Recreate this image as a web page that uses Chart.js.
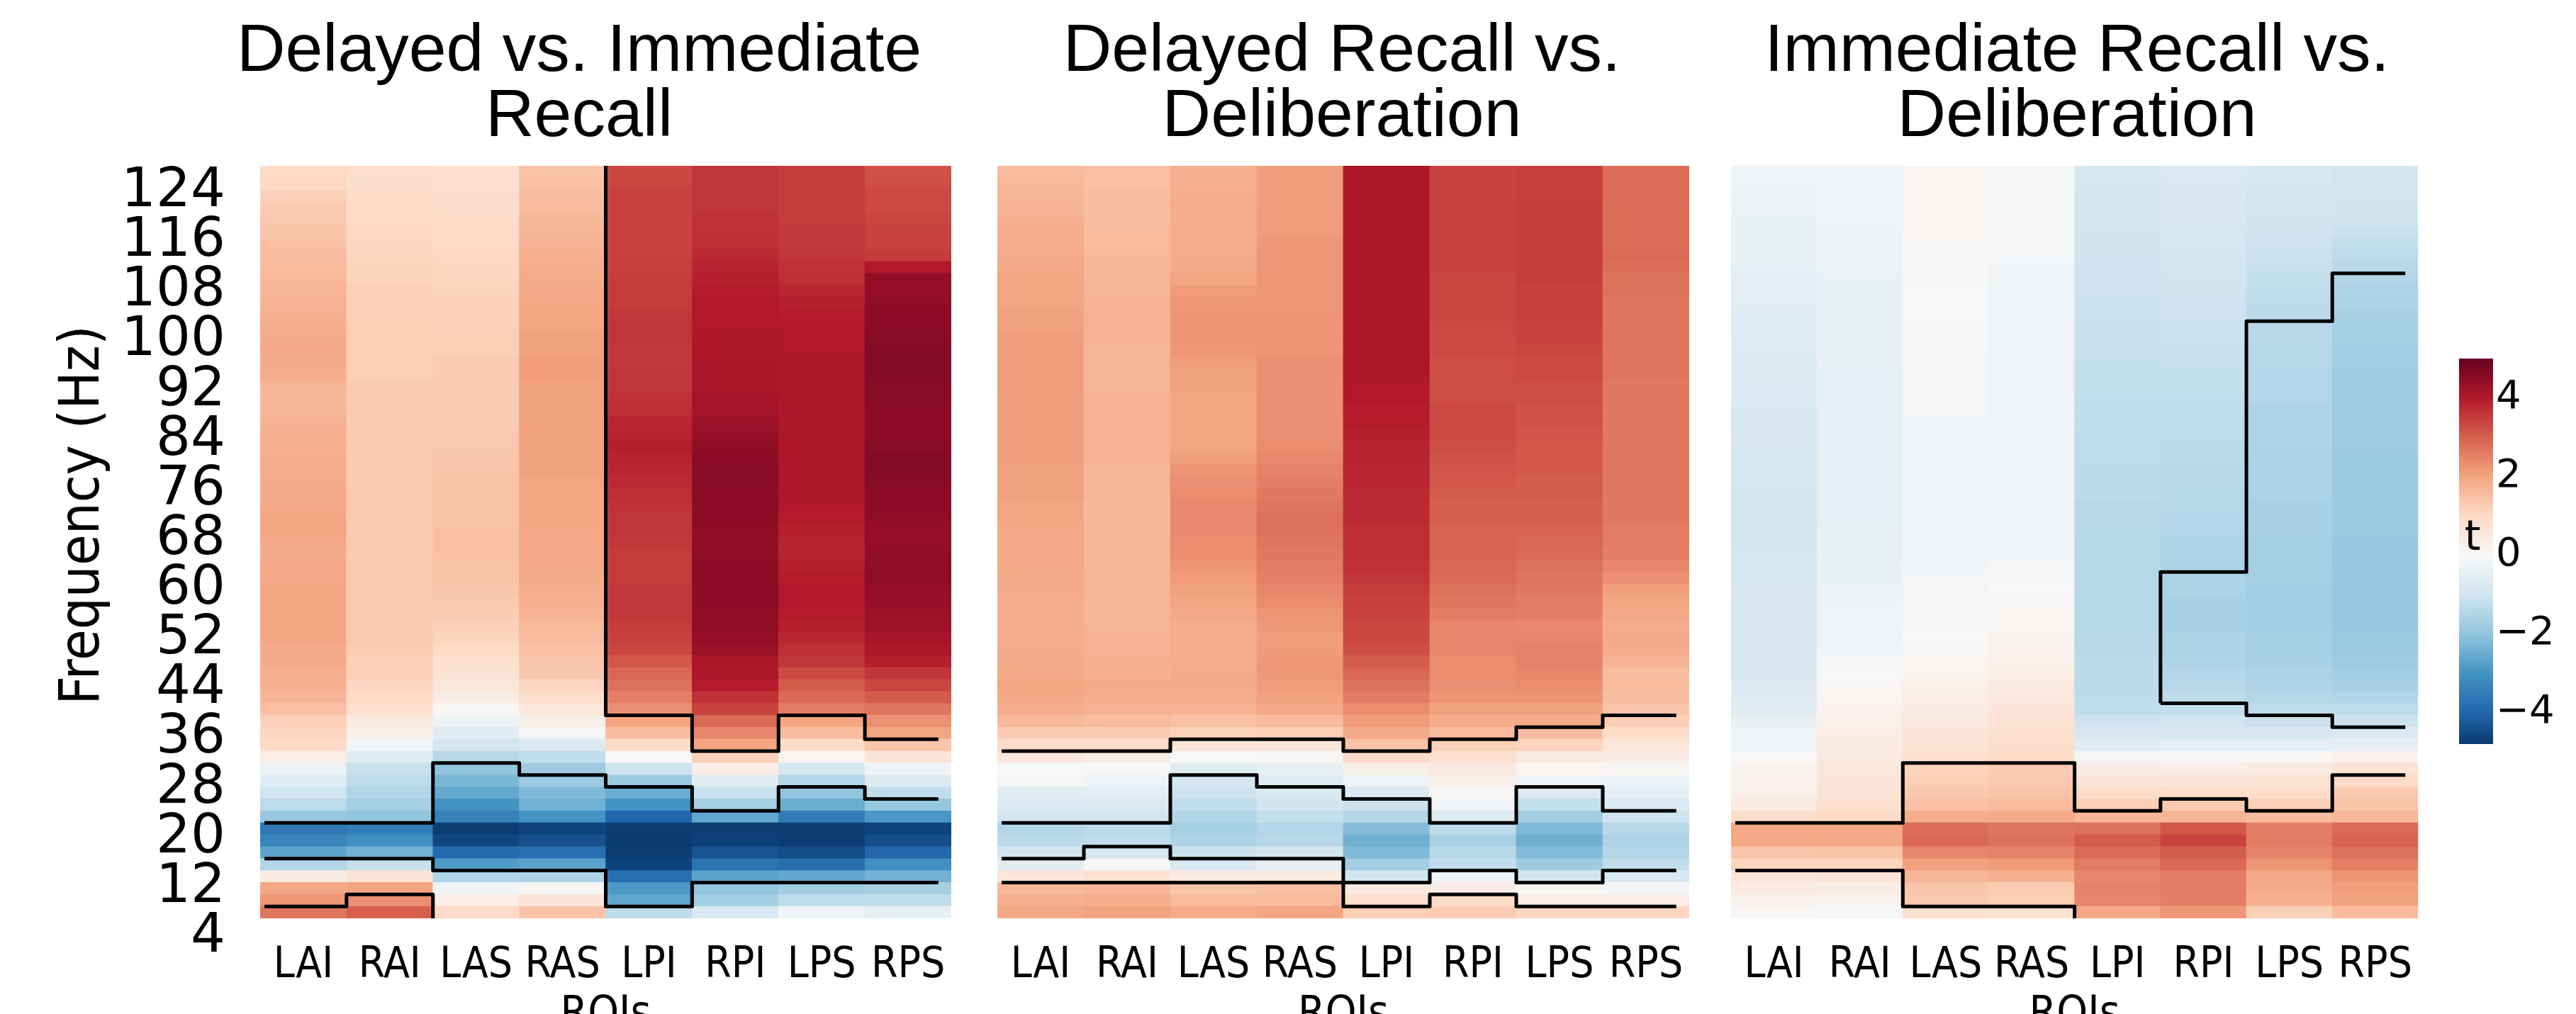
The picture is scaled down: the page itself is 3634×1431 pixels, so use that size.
<!DOCTYPE html>
<html>
<head>
<meta charset="utf-8">
<script src="https://cdn.jsdelivr.net/npm/chart.js@4.4.1/dist/chart.umd.min.js"></script>
<style>
  html, body { margin: 0; padding: 0; background: #fff; overflow: hidden; }
  #page { position: relative; width: 3634px; height: 1431px; }
  canvas { position: absolute; top: 0; }
</style>
</head>
<body>
<div id="page">
  <canvas id="p1" width="1375" height="1431" style="left:0px"></canvas>
  <canvas id="p2" width="1050" height="1431" style="left:1375px"></canvas>
  <canvas id="p3" width="1010" height="1431" style="left:2425px"></canvas>
  <canvas id="cb" width="199" height="1431" style="left:3435px"></canvas>
</div>
<script>
const roiLabels = ['LAI', 'RAI', 'LAS', 'RAS', 'LPI', 'RPI', 'LPS', 'RPS'];

// one row per 2 Hz bin, bottom to top
const freqs = [4, 6, 8, 10, 12, 14, 16, 18, 20, 22, 24, 26, 28, 30, 32, 34, 36, 38, 40, 42,
  44, 46, 48, 50, 52, 54, 56, 58, 60, 62, 64, 66, 68, 70, 72, 74, 76, 78, 80, 82,
  84, 86, 88, 90, 92, 94, 96, 98, 100, 102, 104, 106, 108, 110, 112, 114, 116, 118, 120, 122,
  124, 126, 128];

const freqTicks = [4, 12, 20, 28, 36, 44, 52, 60, 68, 76, 84, 92, 100, 108, 116, 124];
const colorbarTicks = [4, 2, 0, -2, -4];
const colorbarRange = [-4.8, 5.0];

// t values, one array per ROI (LAI..RPS), rows 4 Hz -> 128 Hz
const delayedVsImmediate = [
  [2.7, 2.2, 1.95, 0.4, -1.5, -2.7, -3.3, -3.6, -1.9, -1.3, -1.0, -0.6, -0.3, 0.35, 1.0, 1.1, 1.2, 1.5, 1.7, 1.8, 1.8, 1.9, 1.9, 2.0, 2.0,
   2.0, 2.0, 2.0, 1.95, 1.95, 1.9, 1.95, 2.0, 2.0, 1.95, 1.9, 1.9, 1.85, 1.85, 1.8, 1.8, 1.75, 1.7, 1.65, 1.7, 1.85, 1.9, 1.95, 1.9, 1.85, 1.8, 1.75, 1.7, 1.65, 1.6, 1.55, 1.5, 1.45, 1.35, 1.3, 1.2, 1.05, 1.0],
  [3.0, 2.3, 2.0, 0.7, -1.15, -2.4, -3.1, -3.5, -2.0, -1.7, -1.5, -1.3, -1.15, -0.6, -0.1, 0.3, 0.5, 0.8, 1.0, 1.1, 1.2, 1.2, 1.3, 1.35, 1.35,
   1.35, 1.35, 1.35, 1.3, 1.3, 1.3, 1.3, 1.3, 1.35, 1.35, 1.35, 1.3, 1.3, 1.3, 1.3, 1.3, 1.3, 1.3, 1.3, 1.3, 1.25, 1.25, 1.25, 1.25, 1.25, 1.2, 1.2, 1.2, 1.15, 1.15, 1.1, 1.1, 1.05, 1.0, 1.0, 0.95, 0.9, 0.85],
  [1.0, 0.35, -0.2, -1.5, -2.85, -3.9, -4.6, -4.75, -3.4, -3.0, -2.6, -2.3, -2.0, -1.4, -0.95, -0.6, -0.25, 0.05, 0.4, 0.6, 0.75, 0.8, 1.0, 1.15, 1.2,
   1.3, 1.35, 1.4, 1.45, 1.45, 1.5, 1.5, 1.5, 1.45, 1.45, 1.45, 1.45, 1.4, 1.4, 1.35, 1.35, 1.3, 1.3, 1.3, 1.3, 1.3, 1.3, 1.25, 1.25, 1.2, 1.2, 1.2, 1.15, 1.1, 1.1, 1.05, 1.0, 1.0, 0.95, 0.9, 0.9, 0.85, 0.8],
  [1.45, 0.65, 0.05, -1.55, -2.7, -3.8, -4.4, -4.65, -3.0, -2.4, -2.2, -1.85, -1.8, -1.25, -0.7, -0.1, 0.3, 0.6, 0.9, 1.1, 1.35, 1.4, 1.5, 1.6, 1.65,
   1.75, 1.8, 1.85, 1.9, 1.95, 1.95, 1.95, 1.95, 2.0, 2.0, 2.0, 2.0, 2.05, 2.05, 2.05, 2.05, 2.05, 2.05, 2.05, 2.05, 2.1, 2.1, 2.05, 2.05, 2.0, 2.0, 1.95, 1.95, 1.9, 1.85, 1.8, 1.75, 1.7, 1.65, 1.6, 1.55, 1.5, 1.45],
  [-1.3, -2.65, -2.9, -3.8, -4.65, -4.75, -4.8, -4.75, -4.0, -3.0, -2.5, -1.85, -1.05, 0.0, 1.0, 1.55, 2.0, 2.3, 2.55, 2.75, 2.9, 3.1, 3.35, 3.45, 3.5,
   3.55, 3.55, 3.55, 3.5, 3.5, 3.5, 3.55, 3.6, 3.6, 3.65, 3.7, 3.75, 3.8, 3.85, 3.9, 3.85, 3.8, 3.7, 3.65, 3.6, 3.6, 3.55, 3.55, 3.6, 3.6, 3.55, 3.5, 3.5, 3.5, 3.45, 3.45, 3.4, 3.4, 3.4, 3.4, 3.4, 3.35, 3.35],
  [-0.8, -1.75, -2.0, -2.7, -3.7, -4.35, -4.7, -4.75, -2.6, -1.7, -1.15, -0.55, 0.35, 1.2, 2.0, 2.45, 2.85, 3.4, 3.65, 3.95, 4.05, 4.1, 4.3, 4.4, 4.45,
   4.45, 4.5, 4.5, 4.5, 4.5, 4.45, 4.45, 4.45, 4.5, 4.5, 4.5, 4.55, 4.55, 4.5, 4.45, 4.35, 4.3, 4.2, 4.15, 4.1, 4.1, 4.1, 4.05, 4.05, 4.0, 4.0, 4.0, 3.95, 3.9, 3.85, 3.75, 3.7, 3.65, 3.65, 3.6, 3.6, 3.6, 3.6],
  [-0.15, -1.3, -1.75, -2.6, -3.8, -4.5, -4.75, -4.75, -3.5, -2.5, -2.0, -1.5, -0.9, 0.1, 1.0, 1.55, 2.0, 2.6, 2.85, 3.05, 3.3, 3.6, 3.7, 3.8, 3.9,
   3.95, 4.0, 4.0, 3.95, 3.9, 3.85, 3.85, 3.9, 3.95, 4.0, 4.05, 4.05, 4.05, 4.05, 4.05, 4.05, 4.05, 4.05, 4.05, 4.05, 4.05, 4.05, 4.0, 4.0, 4.0, 3.95, 3.9, 3.8, 3.7, 3.65, 3.6, 3.55, 3.55, 3.5, 3.5, 3.5, 3.5, 3.5],
  [-0.45, -1.25, -1.65, -2.4, -3.1, -3.95, -4.45, -4.65, -2.9, -1.95, -1.25, -0.7, -0.15, 0.65, 1.4, 2.0, 2.3, 2.7, 3.05, 3.35, 3.6, 3.9, 4.05, 4.15, 4.25,
   4.3, 4.35, 4.4, 4.45, 4.45, 4.45, 4.4, 4.4, 4.45, 4.5, 4.5, 4.55, 4.6, 4.6, 4.55, 4.5, 4.5, 4.5, 4.55, 4.55, 4.6, 4.6, 4.6, 4.55, 4.5, 4.5, 4.45, 4.4, 4.4, 4.0, 3.5, 3.4, 3.4, 3.35, 3.3, 3.3, 3.25, 3.2],
];

const delayedVsDeliberation = [
  [1.95, 1.8, 1.65, 0.65, -0.55, -0.95, -1.35, -1.5, -0.95, -0.75, -0.55, -0.1, 0.0, 0.6, 0.95, 1.3, 1.65, 1.85, 1.95, 2.0, 1.95, 1.9, 1.9, 1.85, 1.85,
   1.85, 1.85, 1.9, 1.9, 1.95, 1.95, 1.95, 1.95, 2.0, 2.0, 2.05, 2.05, 2.05, 2.1, 2.1, 2.1, 2.1, 2.1, 2.1, 2.15, 2.15, 2.15, 2.1, 2.1, 2.05, 2.05, 2.0, 2.0, 2.0, 1.95, 1.9, 1.85, 1.85, 1.8, 1.75, 1.7, 1.65, 1.6],
  [2.05, 1.85, 1.7, 0.8, 0.0, -0.9, -1.25, -1.35, -0.95, -0.7, -0.5, -0.2, 0.0, 0.4, 0.95, 1.3, 1.6, 1.75, 1.85, 1.9, 1.8, 1.8, 1.75, 1.75, 1.7,
   1.7, 1.7, 1.7, 1.7, 1.65, 1.65, 1.65, 1.65, 1.65, 1.65, 1.7, 1.7, 1.7, 1.75, 1.75, 1.75, 1.75, 1.75, 1.75, 1.7, 1.7, 1.7, 1.7, 1.75, 1.75, 1.75, 1.75, 1.7, 1.7, 1.65, 1.65, 1.6, 1.6, 1.55, 1.55, 1.55, 1.5, 1.5],
  [1.9, 1.6, 1.4, 0.45, -0.75, -1.1, -1.55, -1.7, -1.5, -1.25, -1.05, -0.9, -0.6, 0.0, 0.6, 1.15, 1.5, 1.75, 1.85, 1.9, 1.9, 1.85, 1.85, 1.85, 1.85,
   1.95, 2.0, 2.05, 2.15, 2.25, 2.35, 2.35, 2.4, 2.4, 2.4, 2.35, 2.3, 2.25, 2.1, 2.0, 2.0, 2.0, 2.0, 2.0, 2.05, 2.05, 2.1, 2.2, 2.25, 2.25, 2.25, 2.2, 2.15, 2.0, 1.9, 1.9, 1.85, 1.85, 1.85, 1.85, 1.85, 1.8, 1.8],
  [2.0, 1.6, 1.5, 0.5, -0.5, -0.95, -1.4, -1.5, -1.2, -1.0, -0.8, -0.6, -0.4, 0.05, 0.65, 1.25, 1.6, 1.95, 2.05, 2.15, 2.2, 2.2, 2.15, 2.1, 2.2,
   2.25, 2.35, 2.45, 2.55, 2.6, 2.65, 2.7, 2.75, 2.75, 2.7, 2.65, 2.55, 2.5, 2.4, 2.35, 2.3, 2.3, 2.3, 2.3, 2.3, 2.3, 2.3, 2.25, 2.25, 2.25, 2.25, 2.2, 2.2, 2.2, 2.2, 2.2, 2.2, 2.15, 2.15, 2.1, 2.1, 2.1, 2.1],
  [1.25, 0.8, 0.45, -0.95, -1.75, -2.25, -2.45, -2.15, -1.5, -1.1, -0.75, -0.25, 0.3, 0.95, 1.45, 1.9, 2.15, 2.35, 2.6, 2.75, 2.9, 3.05, 3.25, 3.35, 3.35,
   3.4, 3.45, 3.5, 3.6, 3.65, 3.7, 3.7, 3.7, 3.75, 3.75, 3.75, 3.8, 3.8, 3.85, 3.85, 3.9, 3.95, 3.95, 4.0, 4.0, 4.05, 4.05, 4.05, 4.05, 4.05, 4.05, 4.05, 4.05, 4.05, 4.05, 4.05, 4.05, 4.05, 4.05, 4.05, 4.05, 4.05, 4.05],
  [1.3, 0.95, 0.4, -0.25, -1.25, -1.45, -1.65, -1.35, -0.6, -0.2, 0.05, 0.3, 0.45, 0.8, 1.2, 1.6, 1.9, 2.05, 2.25, 2.3, 2.35, 2.35, 2.45, 2.45, 2.45,
   2.6, 2.7, 2.75, 2.85, 2.9, 2.95, 2.95, 2.95, 3.0, 3.0, 3.05, 3.1, 3.15, 3.2, 3.25, 3.3, 3.3, 3.3, 3.25, 3.25, 3.25, 3.25, 3.3, 3.3, 3.3, 3.35, 3.35, 3.35, 3.35, 3.4, 3.4, 3.4, 3.4, 3.4, 3.4, 3.4, 3.4, 3.4],
  [1.1, 0.35, 0.05, -0.95, -1.8, -2.2, -2.45, -2.25, -1.75, -1.2, -0.75, -0.25, 0.1, 0.5, 1.15, 1.55, 1.9, 2.05, 2.25, 2.35, 2.45, 2.5, 2.5, 2.45, 2.4,
   2.55, 2.6, 2.65, 2.7, 2.75, 2.85, 2.9, 2.95, 3.0, 3.0, 3.05, 3.05, 3.1, 3.1, 3.1, 3.15, 3.2, 3.2, 3.25, 3.25, 3.3, 3.3, 3.35, 3.4, 3.4, 3.45, 3.45, 3.45, 3.5, 3.5, 3.5, 3.5, 3.5, 3.5, 3.5, 3.45, 3.45, 3.45],
  [1.1, 0.35, -0.1, -0.8, -1.25, -1.5, -1.55, -1.4, -1.05, -0.75, -0.5, -0.3, 0.1, 0.4, 0.65, 0.95, 1.25, 1.4, 1.55, 1.6, 1.55, 1.75, 1.9, 1.9, 1.85,
   1.95, 2.0, 2.1, 2.3, 2.45, 2.55, 2.6, 2.6, 2.65, 2.65, 2.65, 2.65, 2.65, 2.65, 2.65, 2.65, 2.65, 2.65, 2.65, 2.65, 2.7, 2.7, 2.7, 2.7, 2.7, 2.7, 2.7, 2.75, 2.75, 2.8, 2.85, 2.8, 2.8, 2.8, 2.8, 2.8, 2.8, 2.8],
];

const immediateVsDeliberation = [
  [0.05, 0.2, 0.45, 0.65, 1.1, 1.4, 1.95, 1.95, 0.9, 0.45, 0.25, 0.2, 0.15, 0.0, -0.15, -0.25, -0.4, -0.55, -0.65, -0.7, -0.8, -0.8, -0.85, -0.8, -0.8,
   -0.8, -0.85, -0.85, -0.9, -0.9, -0.9, -0.95, -0.95, -0.95, -0.95, -0.95, -0.9, -0.9, -0.9, -0.85, -0.85, -0.8, -0.8, -0.75, -0.75, -0.7, -0.7, -0.65, -0.65, -0.6, -0.6, -0.55, -0.5, -0.5, -0.45, -0.4, -0.4, -0.35, -0.35, -0.3, -0.3, -0.25, -0.25],
  [-0.1, 0.15, 0.35, 0.7, 1.1, 1.45, 1.95, 1.95, 1.0, 0.8, 0.7, 0.65, 0.6, 0.5, 0.45, 0.35, 0.25, 0.2, 0.1, 0.05, 0.0, -0.05, -0.15, -0.2, -0.2,
   -0.25, -0.3, -0.3, -0.35, -0.35, -0.4, -0.4, -0.4, -0.45, -0.45, -0.45, -0.45, -0.45, -0.45, -0.45, -0.45, -0.45, -0.45, -0.45, -0.45, -0.45, -0.4, -0.4, -0.4, -0.4, -0.4, -0.35, -0.35, -0.35, -0.3, -0.3, -0.3, -0.3, -0.25, -0.25, -0.25, -0.2, -0.2],
  [0.8, 1.35, 1.4, 1.7, 2.05, 2.45, 2.85, 2.8, 1.85, 1.5, 1.35, 1.25, 1.15, 0.8, 0.75, 0.65, 0.5, 0.4, 0.35, 0.25, 0.15, 0.1, 0.05, 0.0, -0.05,
   -0.05, -0.1, -0.1, -0.1, -0.15, -0.15, -0.15, -0.15, -0.15, -0.15, -0.15, -0.15, -0.15, -0.15, -0.15, -0.15, -0.15, -0.1, -0.1, -0.1, -0.1, -0.1, -0.05, -0.05, -0.05, 0.0, 0.0, 0.0, 0.05, 0.05, 0.05, 0.05, 0.1, 0.1, 0.1, 0.1, 0.1, 0.1],
  [0.75, 1.25, 1.3, 1.8, 2.15, 2.5, 2.75, 2.7, 1.9, 1.6, 1.45, 1.35, 1.3, 0.95, 0.9, 0.8, 0.75, 0.65, 0.55, 0.45, 0.35, 0.25, 0.2, 0.15, 0.1,
   0.1, 0.05, 0.0, -0.05, -0.1, -0.15, -0.15, -0.2, -0.2, -0.2, -0.2, -0.2, -0.2, -0.2, -0.2, -0.2, -0.2, -0.2, -0.2, -0.2, -0.2, -0.2, -0.2, -0.15, -0.15, -0.15, -0.15, -0.15, -0.15, -0.15, -0.1, -0.1, -0.1, -0.1, -0.1, -0.1, -0.1, -0.1],
  [1.95, 2.45, 2.5, 2.45, 2.6, 2.85, 3.05, 2.75, 1.65, 1.2, 0.95, 0.65, 0.4, -0.1, -0.6, -0.85, -1.05, -1.25, -1.3, -1.35, -1.35, -1.35, -1.4, -1.4, -1.45,
   -1.45, -1.45, -1.45, -1.45, -1.45, -1.45, -1.45, -1.4, -1.4, -1.4, -1.35, -1.35, -1.35, -1.3, -1.3, -1.3, -1.25, -1.25, -1.25, -1.2, -1.2, -1.2, -1.15, -1.15, -1.15, -1.1, -1.1, -1.05, -1.05, -1.05, -1.0, -1.0, -1.0, -0.95, -0.95, -0.95, -0.9, -0.9],
  [2.2, 2.55, 2.6, 2.6, 2.85, 3.05, 3.4, 3.1, 1.7, 1.3, 0.95, 0.65, 0.35, -0.05, -0.5, -0.8, -1.0, -1.2, -1.3, -1.4, -1.5, -1.55, -1.6, -1.6, -1.65,
   -1.65, -1.65, -1.6, -1.6, -1.6, -1.55, -1.55, -1.5, -1.5, -1.45, -1.45, -1.4, -1.4, -1.35, -1.35, -1.3, -1.3, -1.25, -1.25, -1.2, -1.2, -1.15, -1.15, -1.1, -1.1, -1.05, -1.05, -1.0, -1.0, -0.95, -0.95, -0.9, -0.9, -0.85, -0.85, -0.8, -0.8, -0.75],
  [1.2, 1.8, 1.9, 1.95, 2.25, 2.5, 2.6, 2.55, 1.55, 1.2, 0.95, 0.75, 0.45, 0.05, -0.5, -0.8, -1.1, -1.3, -1.45, -1.55, -1.6, -1.65, -1.7, -1.7, -1.75,
   -1.75, -1.75, -1.75, -1.7, -1.7, -1.7, -1.7, -1.65, -1.65, -1.65, -1.6, -1.6, -1.6, -1.6, -1.55, -1.55, -1.55, -1.55, -1.5, -1.5, -1.5, -1.45, -1.45, -1.4, -1.4, -1.35, -1.3, -1.25, -1.2, -1.15, -1.1, -1.05, -1.0, -1.0, -0.95, -0.95, -0.9, -0.9],
  [1.6, 2.05, 2.1, 2.25, 2.55, 2.75, 2.95, 2.85, 1.65, 1.45, 1.3, 1.0, 0.7, 0.2, -0.45, -0.75, -1.05, -1.3, -1.5, -1.65, -1.75, -1.8, -1.85, -1.85, -1.9,
   -1.9, -1.9, -1.9, -1.9, -1.9, -1.9, -1.9, -1.85, -1.85, -1.85, -1.85, -1.85, -1.85, -1.85, -1.8, -1.8, -1.8, -1.8, -1.8, -1.8, -1.8, -1.75, -1.75, -1.7, -1.7, -1.65, -1.6, -1.55, -1.5, -1.4, -1.3, -1.2, -1.1, -1.0, -1.0, -0.95, -0.95, -0.95],
];

// cluster outlines: [column edge, frequency edge] points, drawn as steps
const delayedVsImmediateClusters = [
  [[4, 129], [4, 37], [5, 31], [6, 37], [7, 33], [7.85, 33]],
  [[0.05, 19], [2, 29], [3, 27], [4, 25], [5, 21], [6, 25], [7, 23], [7.85, 23]],
  [[0.05, 13], [2, 11], [4, 5], [5, 9], [7.85, 9]],
  [[0.05, 5], [1, 7], [2, 3]],
];
const delayedVsDeliberationClusters = [
  [[0.05, 31], [2, 33], [4, 31], [5, 33], [6, 35], [7, 37], [7.85, 37]],
  [[0.05, 19], [2, 27], [3, 25], [4, 23], [5, 19], [6, 25], [7, 21], [7.85, 21]],
  [[0.05, 13], [1, 15], [2, 13], [4, 9], [5, 11], [6, 9], [7, 11], [7.85, 11]],
  [[0.05, 9], [4, 5], [5, 7], [6, 5], [7.85, 5]],
];
const immediateVsDeliberationClusters = [
  [[5, 39], [5, 61], [6, 103], [7, 111], [7.85, 111]],
  [[5, 39], [6, 37], [7, 35], [7.85, 35]],
  [[0.05, 19], [2, 29], [4, 21], [5, 23], [6, 21], [7, 27], [7.85, 27]],
  [[0.05, 11], [2, 5], [4, 3]],
];

const xTitle = 'ROIs';
const yTitle = 'Frequency (Hz)';
const cbTitle = 't';

// ---- colours: RdBu_r, centred on 0 like seaborn's center=0
const RDBU_R = ['#053061', '#2166ac', '#4393c3', '#92c5de', '#d1e5f0', '#f7f7f7',
  '#fddbc7', '#f4a582', '#d6604d', '#b2182b', '#67001f'];
const V_HALF = 5;
const hexToRgb = (h) => {
  const n = parseInt(h.slice(1), 16);
  return [n >> 16, (n >> 8) & 255, n & 255];
};
const anchors = RDBU_R.map(hexToRgb);
const tColor = (t) => {
  const p = Math.min(1, Math.max(0, (t + V_HALF) / (2 * V_HALF))) * (anchors.length - 1);
  const i = Math.min(anchors.length - 2, Math.floor(p));
  const f = p - i;
  const a = anchors[i];
  const b = anchors[i + 1];
  return `rgb(${a.map((v, k) => Math.round(v + (b[k] - v) * f)).join(',')})`;
};

const DEJAVU = "'DejaVu Sans', sans-serif";
const NARROW = "'DejaVu Sans Condensed', 'DejaVu Sans', sans-serif";
const TITLE_FONT = "95px 'Liberation Sans', Arial, sans-serif";

const panelText = {
  id: 'panelText',
  afterDraw(chart, args, o) {
    const { ctx, chartArea } = chart;
    ctx.save();
    ctx.fillStyle = '#000';
    ctx.textAlign = 'center';
    ctx.textBaseline = 'alphabetic';
    ctx.font = TITLE_FONT;
    o.title.forEach((line, i) => ctx.fillText(line, o.titleX, 100 + i * 92));
    ctx.font = `62px ${NARROW}`;
    ctx.fillText(xTitle, (chartArea.left + chartArea.right) / 2, 1449);
    if (o.yTitle) {
      ctx.font = `79px ${NARROW}`;
      ctx.translate(139, 727);
      ctx.rotate(-Math.PI / 2);
      ctx.fillText(o.yTitle, 0, 0);
    }
    ctx.restore();
  },
};

const heatmapDatasets = (columns) =>
  freqs.map((f, r) => ({
    type: 'bar',
    data: roiLabels.map((_, c) => ({ x: c + 0.5, y: [f - 1, f + 1] })),
    backgroundColor: columns.map((col) => tColor(col[r])),
    borderWidth: 0,
    grouped: false,
    barPercentage: 1,
    categoryPercentage: 1,
    order: 2,
  }));

const clusterDatasets = (lines) =>
  lines.map((pts) => ({
    type: 'line',
    data: pts.map(([x, y]) => ({ x, y })),
    stepped: true,
    borderColor: '#000',
    borderWidth: 5,
    borderJoinStyle: 'round',
    pointRadius: 0,
    fill: false,
    order: 0,
  }));

function makePanel(id, columns, clusters, cfg) {
  const scales = {
    x: {
      type: 'linear',
      min: 0,
      max: 8,
      offset: false,
      grid: { display: false, drawTicks: false },
      border: { display: false },
      afterBuildTicks: (axis) => {
        axis.ticks = roiLabels.map((_, i) => ({ value: i + 0.5 }));
      },
      afterFit: (axis) => {
        axis.height = 135;
      },
      ticks: {
        autoSkip: false,
        maxRotation: 0,
        padding: 31,
        color: '#000',
        font: { family: NARROW, size: 60 },
        callback: (v, i) => roiLabels[i],
      },
    },
    y: { type: 'linear', min: 3, max: 129, display: false },
  };
  if (cfg.freqAxis) {
    scales.yLab = {
      type: 'linear',
      axis: 'y',
      position: 'left',
      min: 7.08,
      max: 128.22,
      bounds: 'data',
      grid: { display: false, drawTicks: false },
      border: { display: false },
      afterBuildTicks: (axis) => {
        axis.ticks = freqTicks.map((v) => ({ value: v }));
      },
      afterFit: (axis) => {
        axis.width = cfg.padLeft;
      },
      ticks: {
        autoSkip: false,
        padding: 49,
        color: '#000',
        font: { family: DEJAVU, size: 77 },
      },
    };
  }
  return new Chart(document.getElementById(id), {
    type: 'bar',
    data: { datasets: [...clusterDatasets(clusters), ...heatmapDatasets(columns)] },
    options: {
      responsive: false,
      animation: false,
      devicePixelRatio: 1,
      events: [],
      layout: {
        padding: { top: 234, bottom: 0, left: cfg.freqAxis ? 0 : cfg.padLeft, right: cfg.padRight },
      },
      plugins: {
        legend: { display: false },
        tooltip: { enabled: false },
        panelText: { title: cfg.title, titleX: cfg.titleX, yTitle: cfg.freqAxis ? yTitle : null },
      },
      scales,
    },
    plugins: [panelText],
  });
}

makePanel('p1', delayedVsImmediate, delayedVsImmediateClusters, {
  title: ['Delayed vs. Immediate', 'Recall'], titleX: 817, freqAxis: true, padLeft: 367, padRight: 33,
});
makePanel('p2', delayedVsDeliberation, delayedVsDeliberationClusters, {
  title: ['Delayed Recall vs.', 'Deliberation'], titleX: 518, freqAxis: false, padLeft: 32, padRight: 42,
});
makePanel('p3', immediateVsDeliberation, immediateVsDeliberationClusters, {
  title: ['Immediate Recall vs.', 'Deliberation'], titleX: 505, freqAxis: false, padLeft: 17, padRight: 17,
});

// ---- colour bar
const colorbarFill = (context) => {
  const { chart } = context;
  const y = chart.scales.y;
  if (!chart.chartArea || !y) return RDBU_R[5];
  const g = chart.ctx.createLinearGradient(0, y.getPixelForValue(-V_HALF), 0, y.getPixelForValue(V_HALF));
  RDBU_R.forEach((c, i) => g.addColorStop(i / (RDBU_R.length - 1), c));
  return g;
};

const colorbarLabel = {
  id: 'colorbarLabel',
  afterDraw(chart) {
    const { ctx } = chart;
    ctx.save();
    ctx.fillStyle = '#000';
    ctx.textAlign = 'center';
    ctx.textBaseline = 'alphabetic';
    ctx.font = `58px ${DEJAVU}`;
    ctx.fillText(cbTitle, 53, 776);
    ctx.restore();
  },
};

new Chart(document.getElementById('cb'), {
  type: 'bar',
  data: {
    labels: [cbTitle],
    datasets: [{
      data: [colorbarRange],
      backgroundColor: colorbarFill,
      borderWidth: 0,
      barPercentage: 1,
      categoryPercentage: 1,
    }],
  },
  options: {
    responsive: false,
    animation: false,
    devicePixelRatio: 1,
    events: [],
    layout: { padding: { left: 34, top: 506, bottom: 381, right: 0 } },
    plugins: { legend: { display: false }, tooltip: { enabled: false } },
    scales: {
      x: { display: false },
      y: {
        position: 'right',
        min: colorbarRange[0],
        max: colorbarRange[1],
        bounds: 'data',
        grid: { display: false, drawTicks: false },
        border: { display: false },
        afterBuildTicks: (axis) => {
          axis.ticks = colorbarTicks.map((v) => ({ value: v }));
        },
        afterFit: (axis) => {
          axis.width = 117;
        },
        ticks: {
          padding: 4,
          color: '#000',
          font: { family: DEJAVU, size: 56 },
          callback: (v) => (v < 0 ? '\u2212' + Math.abs(v) : String(v)),
        },
      },
    },
  },
  plugins: [colorbarLabel],
});
</script>
</body>
</html>
